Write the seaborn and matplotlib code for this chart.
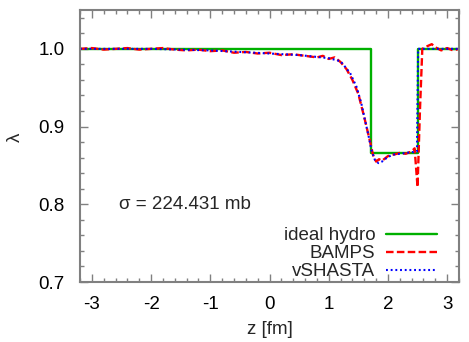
import matplotlib
matplotlib.use("Agg")
import matplotlib.pyplot as plt
import seaborn as sns
import pandas as pd
from matplotlib.ticker import MultipleLocator

# ideal hydro (step)
ideal_z = [-3.2, 1.72, 1.72, 2.50, 2.50, 3.2]
ideal_l = [1.0, 1.0, 0.866, 0.866, 1.0, 1.0]

# BAMPS
bamps_z = [-3.2, -3.0, -2.8, -2.6, -2.4, -2.2, -2.0, -1.8, -1.6, -1.4, -1.2, -1.0,
           -0.8, -0.6, -0.4, -0.2, 0.0, 0.2, 0.4, 0.6, 0.8, 0.9, 1.0, 1.1, 1.2,
           1.3, 1.4, 1.5, 1.6, 1.7, 1.75, 1.8, 1.85, 1.9, 2.0, 2.1, 2.2, 2.3, 2.4,
           2.45, 2.50, 2.54, 2.58, 2.65, 2.74, 2.8, 2.9, 3.0, 3.1, 3.2]
bamps_l = [1.000, 1.001, 0.999, 1.000, 1.001, 0.999, 1.000, 1.001, 0.999, 0.998, 0.999, 0.997,
           0.998, 0.995, 0.996, 0.994, 0.995, 0.992, 0.993, 0.991, 0.989, 0.991, 0.987, 0.989, 0.983,
           0.974, 0.960, 0.942, 0.912, 0.880, 0.863, 0.855, 0.858, 0.856, 0.862, 0.864, 0.866, 0.865, 0.868,
           0.872, 0.822, 0.920, 1.000, 1.003, 1.006, 1.002, 0.998, 1.001, 0.998, 1.000]

# vSHASTA
vsh_z = [-3.2, -2.0, -1.5, -1.0, -0.5, 0.0, 0.5, 1.0, 1.2, 1.36, 1.47, 1.55, 1.61, 1.67,
         1.72, 1.78, 1.84, 1.9, 2.0, 2.1, 2.2, 2.3, 2.4, 2.49, 2.51, 2.6, 3.2]
vsh_l = [1.000, 1.000, 0.999, 0.998, 0.996, 0.994, 0.992, 0.988, 0.984, 0.969, 0.951, 0.930, 0.909, 0.889,
         0.870, 0.857, 0.853, 0.855, 0.861, 0.864, 0.865, 0.866, 0.867, 0.868, 1.000, 1.000, 1.000]

xticks = [-3, -2, -1, 0, 1, 2, 3]
yticks = [0.7, 0.8, 0.9, 1.0]

sns.set_style("ticks")
plt.rcParams['font.family'] = ['Liberation Sans', 'DejaVu Sans']

fig = plt.figure(figsize=(4.69, 3.42), dpi=100)
ax = fig.add_axes([0.1706, 0.1754, 0.8081, 0.7954])

grey = "#808080"
fs = 13.5
sns.lineplot(x=ideal_z, y=ideal_l, ax=ax, color="#00b000", lw=1.7, sort=False,
             estimator=None, label="ideal hydro")
sns.lineplot(x=bamps_z, y=bamps_l, ax=ax, color="#ff0000", lw=1.7, sort=False,
             estimator=None, label="BAMPS")
ax.lines[-1].set_dashes([3.2, 1.4])
sns.lineplot(x=vsh_z, y=vsh_l, ax=ax, color="#0000ff", lw=1.5, sort=False,
             estimator=None, label="vSHASTA")
ax.lines[-1].set_dashes([0.9, 1.35])

ax.set_xlim(-3.2, 3.2)
ax.set_ylim(0.7, 1.05)
ax.set_xticks(xticks)
ax.set_xticklabels([str(t) for t in xticks])
ax.set_yticks(yticks)
ax.set_yticklabels([f"{t:.1f}" for t in yticks])
ax.xaxis.set_minor_locator(MultipleLocator(0.2))
ax.yaxis.set_minor_locator(MultipleLocator(0.02))
ax.tick_params(which="both", direction="in", top=True, right=True, colors=grey,
               labelcolor="black", labelsize=fs, width=1.0)
ax.tick_params(which="major", length=6)
ax.tick_params(which="minor", length=3)
ax.tick_params(axis="y", which="major", pad=11)
ax.tick_params(axis="x", which="major", pad=10)
for s in ax.spines.values():
    s.set_color(grey)
    s.set_linewidth(1.5)

ax.set_xlabel("z [fm]", fontsize=fs, labelpad=6)
ax.set_ylabel("λ", fontsize=fs)
ax.yaxis.set_label_coords(-0.148, 0.533)
ax.text(-2.54, 0.80, "σ = 224.431 mb", fontsize=fs, va="center", ha="left")

leg = ax.legend(loc="lower right", frameon=False, markerfirst=False, fontsize=fs,
                handlelength=2.7, labelspacing=0.05, handletextpad=0.6,
                borderaxespad=0.0, borderpad=0.0, bbox_to_anchor=(0.942, 0.006))

fig.savefig("out.png", dpi=100)
